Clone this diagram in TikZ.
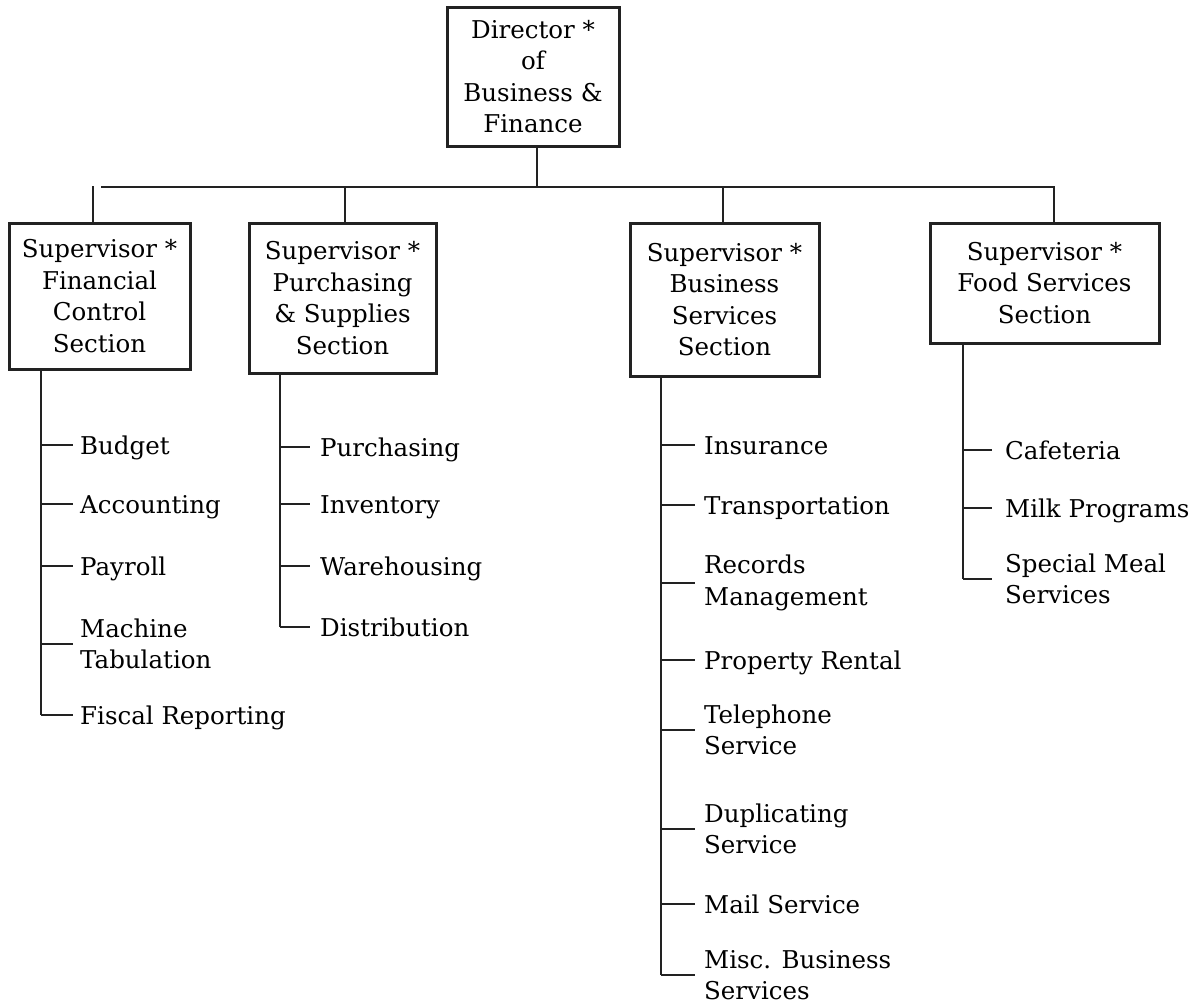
\documentclass[tikz,border=0pt]{standalone}
\usepackage{fontspec}
\setmainfont{DejaVu Serif}
\definecolor{ink}{HTML}{222222}
\begin{document}
\begin{tikzpicture}[x=1pt,y=-1pt,
  every node/.style={font=\fontsize{24.5}{31.5}\selectfont, text=black},
  box/.style={draw=ink, line width=3pt, align=center, inner sep=0pt},
  conn/.style={draw=ink, line width=2.8pt},
  item/.style={anchor=west, align=left, inner ysep=0pt},
  one/.style={item, text height=18pt, text depth=0pt},
  gA/.style={inner xsep=7pt},
  gB/.style={inner xsep=10pt},
  gC/.style={inner xsep=9pt},
  gD/.style={inner xsep=13pt}]
\useasboundingbox (0,0) rectangle (1204,1004);

% boxes
\node[box, minimum width=172pt, minimum height=139pt] (dir) at (533,76.5) {Director *\\of\\Business \&\\Finance};
\node[box, minimum width=181pt, minimum height=146pt] (b1) at (99.5,296) {Supervisor *\\Financial\\Control\\Section};
\node[box, minimum width=187pt, minimum height=150pt] (b2) at (342.5,298) {Supervisor *\\Purchasing\\\& Supplies\\Section};
\node[box, minimum width=189pt, minimum height=153pt] (b3) at (724.5,299.5) {Supervisor *\\Business\\Services\\Section};
\node[box, minimum width=229pt, minimum height=120pt] (b4) at (1044.5,283) {Supervisor *\\Food Services\\Section};

% bus
\coordinate (busL) at (101,187);
\coordinate (busR) at (1054,187);
\coordinate (j0) at (537,187);
\coordinate (j1) at (93,186);
\coordinate (j2) at (345,187);
\coordinate (j3) at (723,187);
\draw[conn] (j0 |- dir.south) -- (j0);
\draw[conn] (busL) -- (busR) -- (busR |- b4.north);
\draw[conn] (j1) -- (j1 |- b1.north);
\draw[conn] (j2) -- (j2 |- b2.north);
\draw[conn] (j3) -- (j3 |- b3.north);

% column 1
\coordinate (t1) at (41,0);
\node[one, gA] (a1) at (73,445) {Budget};
\node[one, gA] (a2) at (73,504) {Accounting};
\node[one, gA] (a3) at (73,566) {Payroll};
\node[item, gA] (a4) at (73,644) {Machine\\Tabulation};
\node[one, gA] (a5) at (73,715) {Fiscal Reporting};
\draw[conn] (t1 |- b1.south) -- (t1 |- a5.west);
\foreach \n in {a1,a2,a3,a4,a5} \draw[conn] (t1 |- \n.west) -- (\n.west);

% column 2
\coordinate (t2) at (280,0);
\node[one, gB] (p1) at (310,447) {Purchasing};
\node[one, gB] (p2) at (310,504) {Inventory};
\node[one, gB] (p3) at (310,566) {Warehousing};
\node[one, gB] (p4) at (310,627) {Distribution};
\draw[conn] (t2 |- b2.south) -- (t2 |- p4.west);
\foreach \n in {p1,p2,p3,p4} \draw[conn] (t2 |- \n.west) -- (\n.west);

% column 3
\coordinate (t3) at (661,0);
\node[one, gC] (s1) at (695,445) {Insurance};
\node[one, gC] (s2) at (695,505) {Transportation};
\node[item, gC] (s3) at (695,583) {Records\\Management};
\node[one, gC] (s4) at (695,660) {Property Rental};
\node[item, gC] (s5) at (695,730) {Telephone\\Service};
\node[item, gC] (s6) at (695,829) {Duplicating\\Service};
\node[one, gC] (s7) at (695,904) {Mail Service};
\node[item, gC] (s8) at (695,975) {Misc. Business\\Services};
\draw[conn] (t3 |- b3.south) -- (t3 |- s8.west);
\foreach \n in {s1,s2,s3,s4,s5,s6,s7,s8} \draw[conn] (t3 |- \n.west) -- (\n.west);

% column 4
\coordinate (t4) at (963,0);
\node[one, gD] (f1) at (992,450) {Cafeteria};
\node[one, gD] (f2) at (992,508) {Milk Programs};
\node[item, gD] (f3) at (992,579) {Special Meal\\Services};
\draw[conn] (t4 |- b4.south) -- (t4 |- f3.west);
\foreach \n in {f1,f2,f3} \draw[conn] (t4 |- \n.west) -- (\n.west);
\end{tikzpicture}
\end{document}
